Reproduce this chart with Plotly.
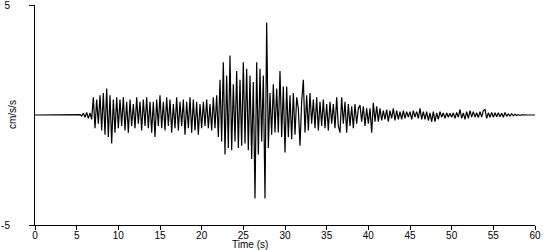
import plotly.graph_objects as go

dt = 0.2
accel = [
    # 0-4 s
    0, 0, 0, 0, 0,
    0, 0, 0, 0, 0,
    0, 0, 0, 0, 0,
    0, 0, 0, 0, 0,
    0, 0, 0, 0, 0,
    # 5-9 s
    0, 0, 0.02, -0.05, 0.08,
    -0.1, 0.12, -0.15, 0.1, -0.2,
    0.8, -0.6, 0.7, -0.4, 0.9,
    -0.7, 1.0, -0.9, 1.2, -1.0,
    0.9, -1.3, 0.7, -0.8, 0.8,
    # 10-14 s
    -0.6, 0.7, -0.5, 0.8, -0.7,
    0.6, -0.8, 0.7, -0.5, 0.5,
    -0.6, 0.8, -0.4, 0.6, -0.7,
    0.7, -0.5, 0.8, -0.6, 0.6,
    -0.8, 0.6, -1.0, 0.7, -0.5,
    # 15-19 s
    0.9, -0.6, 0.6, -0.7, 0.8,
    -0.5, 0.7, -0.8, 0.5, -0.6,
    0.8, -0.7, 0.6, -0.5, 0.7,
    -0.9, 0.6, -0.6, 0.8, -0.8,
    0.7, -0.7, 0.6, -0.9, 0.5,
    # 20-24 s
    -0.6, 0.6, -0.5, 0.7, -0.6,
    0.5, -0.7, 0.8, -0.6, 0.9,
    -1.0, 1.6, -1.2, 2.4, -1.8,
    1.8, -1.5, 2.7, -1.6, 1.4,
    -1.2, 2.0, -1.5, 1.6, -1.4,
    # 25-29 s
    2.4, -1.3, 2.1, -1.6, 1.8,
    -2.0, 1.5, -3.8, 2.4, -1.8,
    2.1, -1.2, 1.8, -3.8, 4.2,
    -1.5, 1.0, -0.9, 1.4, -0.8,
    1.2, -0.8, 2.0, -1.0, 1.3,
    # 30-34 s
    -1.7, 1.3, -1.0, 0.9, -1.1,
    1.0, -0.9, 0.8, 0.3, -1.4,
    0.6, 1.6, -0.8, 0.9, -0.7,
    1.0, -0.4, 0.7, -0.6, 0.8,
    -0.7, 0.6, -0.5, 0.7, -0.6,
    # 35-39 s
    0.5, -0.7, 0.6, -0.4, 0.5,
    -0.6, 0.8, -0.5, -0.8, 0.8,
    -0.4, 0.6, -0.8, 0.5, -0.5,
    0.4, -0.6, 0.5, -0.4, 0.3,
    0.45, -0.3, 0.4, -0.5, 0.3,
    # 40-44 s
    -0.4, 0.3, -0.8, 0.55, -0.3,
    0.4, -0.3, 0.3, -0.25, 0.2,
    -0.2, 0.25, -0.3, 0.2, -0.15,
    0.3, -0.25, 0.2, -0.2, 0.15,
    -0.2, 0.2, -0.15, 0.15, -0.1,
    # 45-49 s
    0.15, -0.2, 0.2, -0.1, 0.15,
    -0.15, 0.3, -0.2, 0.15, -0.2,
    0.15, -0.25, 0.1, -0.3, 0.15,
    -0.3, 0.1, -0.2, 0.15, -0.1,
    0.1, -0.15, 0.1, -0.1, 0.08,
    # 50-54 s
    -0.1, 0.1, -0.15, 0.12, -0.1,
    0.25, -0.15, 0.1, -0.2, 0.15,
    -0.15, 0.2, -0.1, 0.15, -0.1,
    0.1, -0.12, 0.15, -0.1, 0.2,
    0.25, -0.15, 0.1, -0.1, 0.12,
    # 55-60 s
    -0.1, 0.1, -0.08, 0.1, -0.08,
    0.08, -0.1, 0.12, -0.06, 0.05,
    -0.05, 0.06, -0.04, 0.03, -0.02,
    0.02, -0.02, 0.01, 0, 0,
    0, 0, 0, 0, 0,
    0,
]
time = [round(i * dt, 2) for i in range(len(accel))]

x_ticks = [0, 5, 10, 15, 20, 25, 30, 35, 40, 45, 50, 55, 60]
y_ticks = [-5, 5]
y_tick_text = ["-5", "5"]

FONT = "Liberation Sans"

fig = go.Figure()
fig.add_trace(go.Scatter(x=time, y=accel, mode="lines",
                         line=dict(color="black", width=1.2), hoverinfo="skip"))

fig.update_layout(
    width=550, height=250,
    margin=dict(l=35, r=15, t=5, b=25),
    paper_bgcolor="white", plot_bgcolor="white",
    showlegend=False,
    font=dict(family=FONT, size=10, color="black"),
    xaxis=dict(range=[0, 60], tickvals=x_ticks, ticks="outside", ticklen=4,
               tickcolor="black", showline=True, linecolor="black", linewidth=1,
               showgrid=False, zeroline=False, tickfont=dict(size=10),
               ticklabelstandoff=-3, automargin=False,
               ticklabeloverflow="allow"),
    yaxis=dict(range=[-5, 5], tickvals=y_ticks, ticktext=y_tick_text,
               ticks="outside", ticklen=5,
               tickcolor="black", showline=True, linecolor="black", linewidth=1,
               showgrid=False, zeroline=False, tickfont=dict(size=10),
               ticklabelstandoff=17, automargin=False,
               ticklabeloverflow="allow"),
    annotations=[
        dict(text="Time (s)", xref="x", yref="paper",
             x=25.8, y=-20 / 220, xanchor="center", yanchor="middle",
             showarrow=False, font=dict(size=10)),
        dict(text="cm/s/s", textangle=-90, xref="paper", yref="y",
             x=(12 - 35) / 500, y=0, xanchor="center", yanchor="middle",
             showarrow=False, font=dict(size=10)),
    ],
)

fig.write_html("out.html")
